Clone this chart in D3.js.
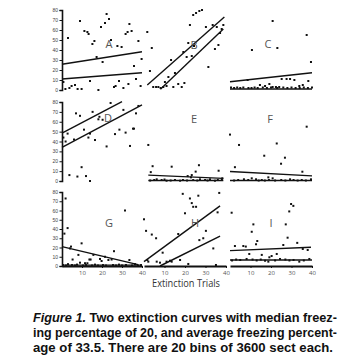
<!DOCTYPE html>
<html>
<head>
<meta charset="utf-8">
<script src="https://cdn.jsdelivr.net/npm/d3@7"></script>
<style>
body{margin:0;background:#fff}
svg{display:block}
</style>
</head>
<body>
<svg id="chart" width="363" height="363"></svg>
<script>
// panel letters, row/col order
const panelNames = ["A","B","C","D","E","F","G","H","I"];
const yTicks = [0,10,20,30,40,50,60,70,80];
const xTicks = [10,20,30,40];

// scatter points [trial, freezing %]
const pointsA = [[3,52],[9,69],[11.2,59],[12.7,58],[13.3,56],[15.2,46],[16.2,49],[17.3,33],[20.3,28],[19.5,63],[21.5,67],[22.3,76],[23.5,71],[24.5,50],[27.7,44],[29.8,43],[31.8,56],[32.8,58],[33.7,66],[34.8,59],[38.2,49],[39.8,31],[36,24],[37,11],[39.3,4],
  [0.7,8],[1.7,1],[3.7,2],[4.8,4],[6.5,5],[7.8,1],[9.8,1],[14,9],[18.2,0],[26,3],[26.8,4],[28.5,9],[30.7,2],[33.2,6]];
const pointsB = [[24,75],[25.4,77],[27,79],[28.3,80],[22.4,65],[30.2,63],[33.5,65],[35.5,63],[37.9,61],[38.7,65],[37.1,57],[21.6,47],[24.4,44],[19.2,38],[20.8,33],[23.3,34],[34.6,41],[36.3,45],[13.2,30],[31.4,23],[15.1,17],[3.8,42],[1.6,58],[2.9,19],[11.9,13],[10.2,8],
  [4.5,3],[5.9,3],[7,3],[8.1,2],[9.4,3],[11,4],[14.3,3],[16.7,6],[18.4,3],[19.7,7]];
const pointsC = [[20.8,69],[37.4,55],[10.7,40],[23.1,42],[39.5,28],[25.2,11],[27.6,11],[29.3,11],[31.4,10],[38.2,9],[8.6,10],[14.6,5],[17.1,4],[19.2,6],[20.8,3],[22.4,3],[24,3],[33.8,4],[35.5,5],
  [0.5,2.5],[2,2],[3.5,2.5],[5,2],[6.5,2.5],[9,2],[10.5,2],[12,2.5],[13.5,2],[16,2.5],[18,2],[20,2.5],[23,2],[26,2.5],[28,2],[30,2.5],[32,2],[34,2],[36,2.5],[38,2],[40,2.5]];
const pointsD = [[0.7,44],[1.8,40],[2.8,48],[7,68.5],[9,66],[6,42],[11,52],[13.2,44],[14,48],[15.3,70],[16.5,41.5],[18.2,62.5],[18.7,65],[20.3,62],[22.3,35],[24.3,79],[26.5,47.5],[28.7,52],[30.7,72],[31.8,49],[34,35.5],[35.5,53],[36,53],[37,68.5],[38.2,76],
  [3.7,6],[7.7,4.5],[9.8,14],[12,5],[14,0]];
const pointsE = [[2.1,36.5],[4.2,15],[3.3,9],[13.5,14.5],[26.8,16],[25.2,9.5],[21.3,5],[23.3,6],[22.9,3.7],[36.4,10.4],[38.2,2.7],
  [3,0.5],[5,1],[6.2,1.7],[8.6,1],[10,1.5],[11,0.3],[13,0.5],[15.1,1],[17.6,0.3],[19,1],[21,0.5],[24,1],[26,0.5],[27.3,1.7],[29.8,1],[31,0.5],[32.2,1.7],[34.6,0.3],[36,1],[38,1.5]];
const pointsF = [[37.4,55],[22.8,38],[16.7,25.6],[26.8,23.6],[24.9,17.5],[35.3,9.4],[18.7,3.7],[20.8,2.7],[10.6,2.7],[12.7,1.7],[15.5,1],[29.3,1.7],[39.5,1.7],[6.8,1.7],[8.9,1],[0,47],[4.4,36.5],[2.4,14],
  [2,0.5],[4,1],[14,0.5],[17,0.5],[19,1],[22,0.5],[25,1],[27,0.5],[31,1],[33,0.5],[35,1],[37,0.5]];
const pointsG = [[1.8,73],[2.8,41],[1.2,35],[4.5,21],[4,19],[5.3,7],[9.8,24.5],[8.2,12],[9,3.6],[11.5,3],[12.7,3],[13.7,7],[14.3,7],[15.7,12],[19,7.6],[19.8,5.4],[21.5,10],[23.2,6.5],[24.8,7],[26,16],[31.5,60],[33.7,6.5],
  [0.5,1],[2,0.5],[3,2],[5,1],[6.5,0.5],[7.5,1.5],[10.5,0.5],[12,1],[15,0.5],[16.5,1.5],[18,0.5],[20.5,1],[22,0.5],[25.5,1],[27,0.5],[28.5,1.5],[30,0.5],[32,1],[35,0.5],[36.5,2],[38,0.5],[39.5,1]];
const pointsH = [[18.9,78],[22.4,73],[26.5,76],[36.7,79],[23.3,68],[24,64],[25.4,64],[20,57],[35.9,58],[0,50.5],[1,38],[3.8,34],[5.9,30],[16.7,34.6],[30.2,38],[27,28],[28.9,30],[33.8,19],[9.1,14.4],[17.6,6.5],[2.1,4.7],[1.6,6.5],[6.2,4.7],[7.8,3.6],[11,4.7],[12.7,5.7],[13.5,4.7],[21.6,2.2],[35.1,1.1]];
const pointsI = [[29.8,67],[30.9,65],[28.9,59],[27.2,45],[11.4,45],[10.6,37],[28.1,30.6],[13.3,27],[12.7,23.5],[32.8,25],[26,22.7],[7.7,21],[35.5,18.4],[37.9,17.3],[9.4,13],[15.5,12],[22.8,13],[8.1,7.6],[19.2,9.4],[20.3,10.8],[17.1,5.7],[18.7,4.7],[24.4,7.6],[33.8,4.7],[38.7,7.6],[0.8,57.6],[2.4,21.6],[6.5,21.6],
  [1,6],[3,7],[5,6.5],[11,7],[13,6],[15,7],[22,6],[27,7],[29,6],[31,6.5],[36,6]];

// two fitted extinction curves per panel: [trialStart, valueStart, trialEnd, valueEnd]
const linesA = [[0,25.7,40,38.3],[0,11,40,17.3]];
const linesB = [[1.6,5,39.2,73],[8,0.7,38.7,61]];
const linesC = [[0,8.3,40,17.3],[0,1,40,1]];
const linesD = [[0,48.5,30,80.5],[0,34,40,77]];
const linesE = [[2.1,6,38.7,2.7],[2.1,0.5,38.7,0.5]];
const linesF = [[0,9.6,40,5.2],[0,0.5,40,0.5]];
const linesG = [[0,21,38,1.5],[0,1,40,1]];
const linesH = [[0,4.7,37.1,65],[7.8,0,37.1,32.4]];
const linesI = [[0,16.6,39.5,20.2],[0,6.5,40,6.5]];

// where the panel letter sits [trial, value]
const letterPos = [[23.5,46],[24.4,45],[18.5,46],[23,64],[24.4,63],[19.5,63],[23.5,46.5],[24.9,46.5],[20,46.5]];

const allPoints = [pointsA,pointsB,pointsC,pointsD,pointsE,pointsF,pointsG,pointsH,pointsI];
const allLines = [linesA,linesB,linesC,linesD,linesE,linesF,linesG,linesH,linesI];

const svg = d3.select("#chart");
const colRanges = [[62,142],[144,226],[230,312]];
const rowRanges = [[90,10],[181,102],[266,192]];

const xs = colRanges.map(r => d3.scaleLinear().domain([0,40]).range(r));
const ys = rowRanges.map(r => d3.scaleLinear().domain([0,80]).range(r));

panelNames.forEach((name, i) => {
	let col = i % 3, row = Math.floor(i / 3);
	let x = xs[col], y = ys[row];
	let g = svg.append("g");

	g.selectAll("rect.pt")
		.data(allPoints[i])
		.enter().append("rect")
		.attr("class","pt")
		.attr("x", d => x(d[0]) - 1)
		.attr("y", d => y(d[1]) - 1)
		.attr("width", 2)
		.attr("height", 2)
		.attr("fill", "#111");

	g.selectAll("line.fit")
		.data(allLines[i])
		.enter().append("line")
		.attr("class","fit")
		.attr("x1", d => x(d[0]))
		.attr("y1", d => y(d[1]))
		.attr("x2", d => x(d[2]))
		.attr("y2", d => y(d[3]))
		.attr("stroke", "#111")
		.attr("stroke-width", 1.4);

	g.append("text")
		.attr("x", x(letterPos[i][0]))
		.attr("y", y(letterPos[i][1]))
		.attr("dy", "0.35em")
		.attr("text-anchor", "middle")
		.attr("font-family", "'Open Sans', sans-serif")
		.attr("font-size", 11)
		.attr("fill", "#555")
		.text(name);
});

// y axes on the left column
ys.forEach(y => {
	let ax = svg.append("g")
		.attr("transform", "translate(62,0)")
		.call(d3.axisLeft(y).tickValues(yTicks).tickSize(2.5).tickPadding(1.5));
	ax.select(".domain").attr("stroke", "#111").attr("stroke-width", 1.6);
	ax.selectAll(".tick line").attr("stroke", "#111").attr("stroke-width", 1);
	ax.selectAll(".tick text").attr("font-size", 5).attr("fill", "#444").attr("font-family", "'Liberation Sans', sans-serif");
});

// x axes on the bottom row
xs.forEach(x => {
	let ax = svg.append("g")
		.attr("transform", "translate(0,266)")
		.call(d3.axisBottom(x).tickValues(xTicks).tickSize(2).tickPadding(3).tickSizeOuter(0));
	ax.select(".domain").attr("stroke", "#111").attr("stroke-width", 2);
	ax.selectAll(".tick line").attr("stroke", "#111").attr("stroke-width", 1);
	ax.selectAll(".tick text").attr("font-size", 6).attr("fill", "#555").attr("font-family", "'Open Sans', sans-serif");
});

svg.append("text")
	.attr("x", 186)
	.attr("y", 287)
	.attr("text-anchor", "middle")
	.attr("font-family", "'Open Sans', sans-serif")
	.attr("font-size", 10)
	.attr("fill", "#333")
	.attr("textLength", 68)
	.attr("lengthAdjust", "spacingAndGlyphs")
	.text("Extinction Trials");

// caption
const captionLines = [
	["Figure 1.", " Two extinction curves with median freez-"],
	["", "ing percentage of 20, and average freezing percent-"],
	["", "age of 33.5. There are 20 bins of 3600 sect each."]
];
const captionWidths = [304, 304, 300];
captionLines.forEach((ln, i) => {
	let t = svg.append("text")
		.attr("x", 33)
		.attr("y", 322 + i * 15)
		.attr("font-family", "'Liberation Sans', Arial, sans-serif")
		.attr("font-weight", "bold")
		.attr("font-size", 12.5)
		.attr("fill", "#111")
		.attr("textLength", captionWidths[i])
		.attr("lengthAdjust", "spacingAndGlyphs");
	if (ln[0]) t.append("tspan").attr("font-style", "italic").text(ln[0]);
	t.append("tspan").text(ln[1]);
});
</script>
</body>
</html>
